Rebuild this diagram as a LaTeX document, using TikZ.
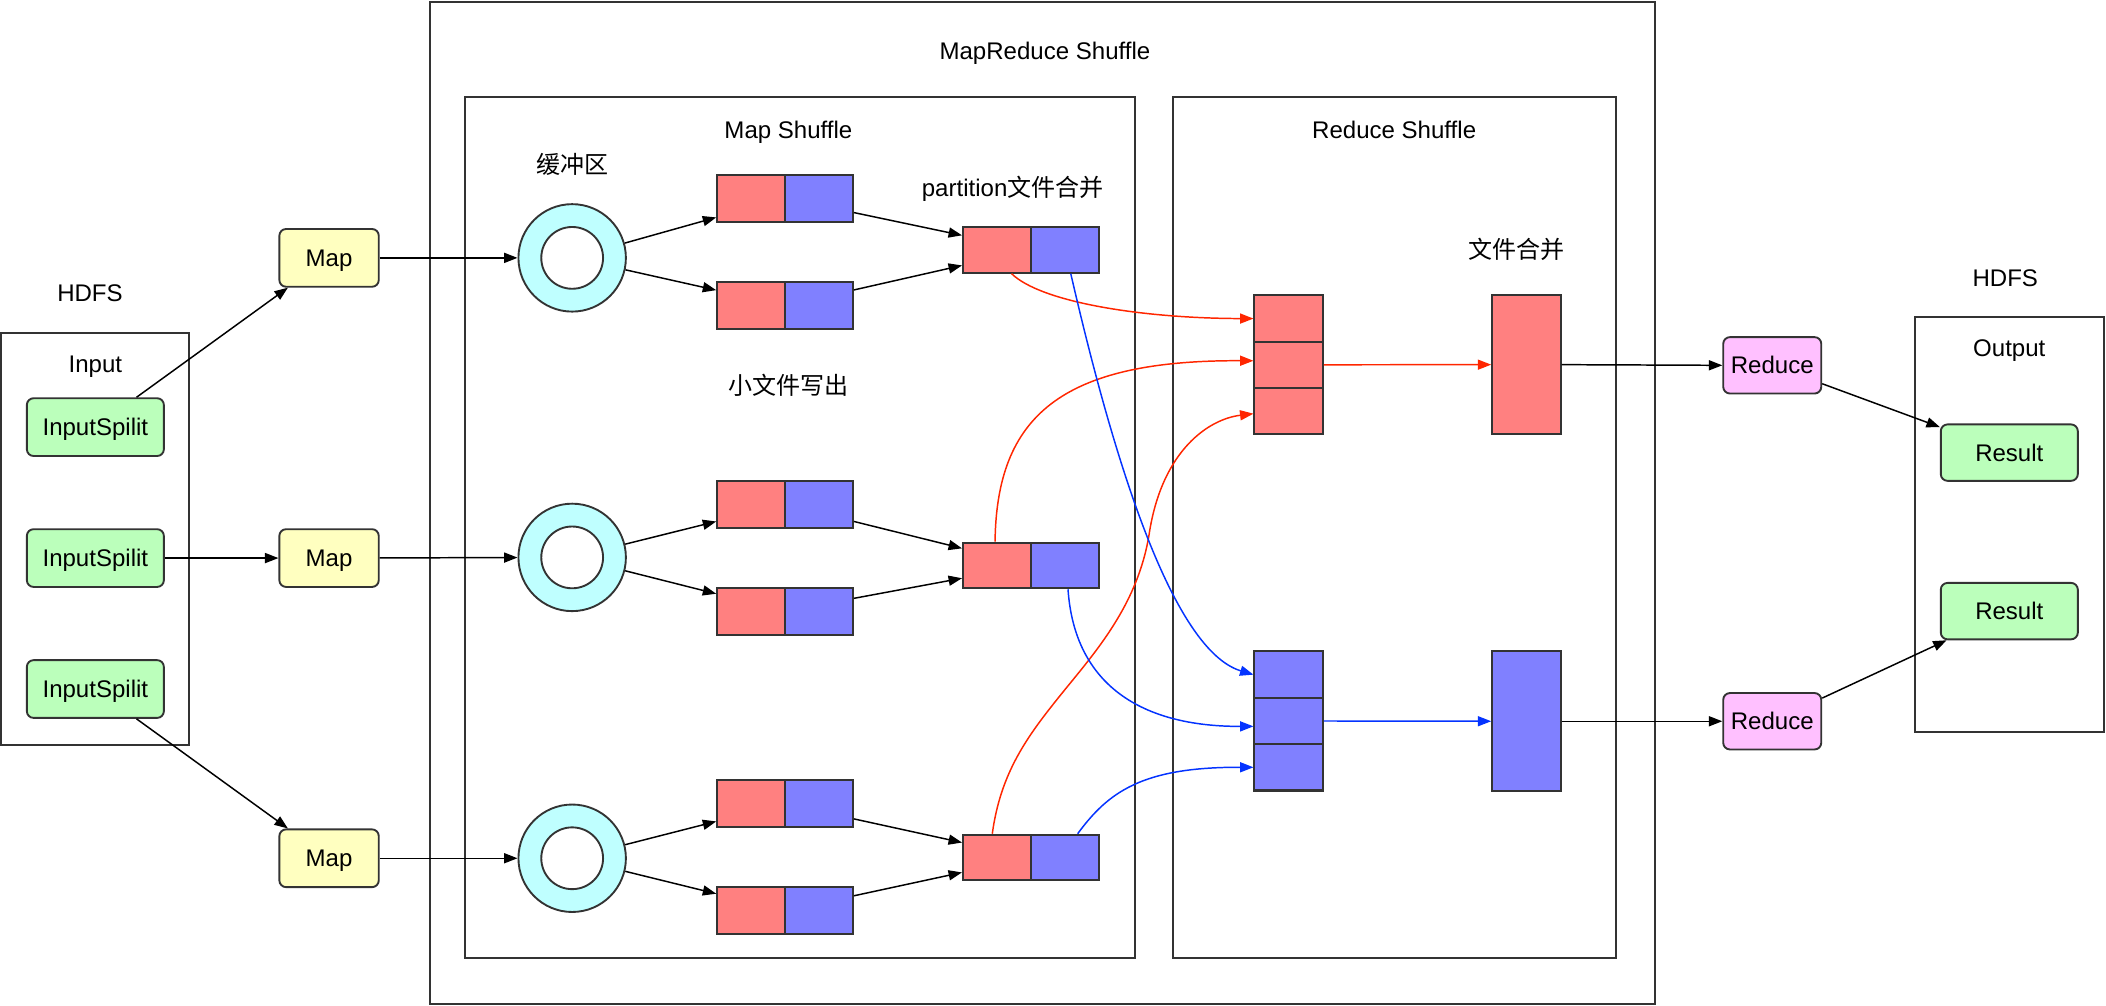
\documentclass[tikz,border=0pt]{standalone}
\usepackage{fontspec}
\setmainfont{Liberation Sans}
\newfontfamily\cjk{Noto Sans CJK SC}
\usetikzlibrary{arrows.meta,calc}
\definecolor{bd}{HTML}{333333}
\definecolor{redf}{HTML}{FF8080}
\definecolor{bluef}{HTML}{8080FF}
\definecolor{cyanf}{HTML}{BFFFFF}
\definecolor{greenf}{HTML}{BBFFBB}
\definecolor{yellowf}{HTML}{FFFFC0}
\definecolor{pinkf}{HTML}{FFC0FF}
\definecolor{redl}{HTML}{FF2600}
\definecolor{bluel}{HTML}{0433FF}
\begin{document}
\begin{tikzpicture}[x=1pt,y=-1pt,
  every node/.style={font=\fontsize{17.9pt}{21pt}\selectfont},
  lbl/.style={inner sep=0pt, text height=12.8pt, text depth=0pt},
  frame/.style={draw=bd, line width=1.5pt, inner sep=0pt},
  rbox/.style={draw=bd, line width=1.4pt, rounded corners=5pt, inner sep=0pt, text height=12.8pt, text depth=0pt},
  split/.style={rbox, fill=greenf, minimum width=102pt, minimum height=43pt},
  mapn/.style={rbox, fill=yellowf, minimum width=74pt, minimum height=43pt},
  rednode/.style={rbox, fill=pinkf, minimum width=73pt, minimum height=42pt},
  resn/.style={rbox, fill=greenf, minimum width=102pt, minimum height=42pt},
  ring/.style={circle, draw=bd, line width=1.4pt, fill=cyanf, minimum size=80pt, inner sep=0pt},
  hole/.style={circle, draw=bd, line width=1.4pt, fill=white, minimum size=46pt, inner sep=0pt},
  pair/.style={frame, minimum width=101pt, minimum height=35pt,
    path picture={
      \fill[redf] (path picture bounding box.south west) rectangle (path picture bounding box.north);
      \fill[bluef] (path picture bounding box.south) rectangle (path picture bounding box.north east);
      \draw[bd, line width=1.5pt] (path picture bounding box.south) -- (path picture bounding box.north);}},
  rcell/.style={frame, fill=redf, minimum width=51pt, minimum height=34.5pt},
  bcell/.style={frame, fill=bluef, minimum width=51pt, minimum height=34.5pt},
  arr/.style={draw=black, line width=1.1pt, -{Triangle[length=10pt,width=7.5pt]}},
  rarr/.style={arr, draw=redl},
  barr/.style={arr, draw=bluel},
]
\useasboundingbox (0,0) rectangle (1568,749);

% frames
\node[frame, minimum width=912pt, minimum height=746pt] (mr) at (776.5,374.5) {};
\node[frame, minimum width=499pt, minimum height=641pt] (ms) at (595.5,392.5) {};
\node[frame, minimum width=330pt, minimum height=641pt] (rs) at (1038,392.5) {};
\node[frame, minimum width=140pt, minimum height=307pt] (inbox) at (71,401.5) {};
\node[frame, minimum width=141pt, minimum height=309pt] (outbox) at (1496,390.5) {};

% labels
\node[lbl] (t1) at (778,38) {MapReduce Shuffle};
\node[lbl] (t2) at (587,97) {Map Shuffle};
\node[lbl] (t3) at (1038,97) {Reduce Shuffle};
\node[lbl] (t4) at (67,218) {HDFS};
\node[lbl] (t5) at (71,271) {Input};
\node[lbl] (t6) at (1493,207) {HDFS};
\node[lbl] (t7) at (1496,259) {Output};
\node[lbl] (t8) at (426,123) {\cjk 缓冲区};
\node[lbl] (t9) at (754,140) {partition{\cjk 文件合并}};
\node[lbl] (t10) at (587,287) {\cjk 小文件写出};
\node[lbl] (t11) at (1129,186) {\cjk 文件合并};

% input splits
\node[split] (sp1) at (71,318) {InputSpilit};
\node[split] (sp2) at (71,415.5) {InputSpilit};
\node[split] (sp3) at (71,513) {InputSpilit};

% maps
\node[mapn] (mp1) at (245,192) {Map};
\node[mapn] (mp2) at (245,415.5) {Map};
\node[mapn] (mp3) at (245,639) {Map};

% rings
\node[ring] (r1) at (426,192) {};
\node[hole] (h1) at (426,192) {};
\node[ring] (r2) at (426,415) {};
\node[hole] (h2) at (426,415) {};
\node[ring] (r3) at (426,639) {};
\node[hole] (h3) at (426,639) {};

% small files
\node[pair] (s11) at (584.5,147.5) {};
\node[pair] (s12) at (584.5,227.5) {};
\node[pair] (s21) at (584.5,375.5) {};
\node[pair] (s22) at (584.5,455) {};
\node[pair] (s31) at (584.5,598.5) {};
\node[pair] (s32) at (584.5,678) {};

% partition merged
\node[pair, minimum height=34pt] (p1) at (767.5,186) {};
\node[pair, minimum height=34pt] (p2) at (767.5,421) {};
\node[pair, minimum height=34pt] (p3) at (767.5,638.5) {};

% reduce side cells
\node[rcell] (rc1) at (959.5,237.2) {};
\node[rcell] (rc2) at (959.5,271.6) {};
\node[rcell] (rc3) at (959.5,306) {};
\node[bcell] (bc1) at (959.5,502.3) {};
\node[bcell] (bc2) at (959.5,536.8) {};
\node[bcell] (bc3) at (959.5,571.3) {};
\node[frame, fill=redf, minimum width=51pt, minimum height=103pt] (rm) at (1136.5,271.5) {};
\node[frame, fill=bluef, minimum width=51pt, minimum height=104pt] (bm) at (1136.5,537) {};

% reduce and results
\node[rednode] (rd1) at (1319.5,272) {Reduce};
\node[rednode] (rd2) at (1319.5,537) {Reduce};
\node[resn] (res1) at (1496,337) {Result};
\node[resn] (res2) at (1496,455) {Result};

% black arrows
\draw[arr] (sp1) -- (mp1);
\draw[arr] (sp2) -- (mp2);
\draw[arr] (sp3) -- (mp3);
\draw[arr] (mp1) -- (r1);
\draw[arr] (mp2) -- (r2);
\draw[arr] (mp3) -- (r3);
\draw[arr] (r1) -- (s11);
\draw[arr] (r1) -- (s12);
\draw[arr] (r2) -- (s21);
\draw[arr] (r2) -- (s22);
\draw[arr] (r3) -- (s31);
\draw[arr] (r3) -- (s32);
\draw[arr] (s11) -- (p1);
\draw[arr] (s12) -- (p1);
\draw[arr] (s21) -- (p2);
\draw[arr] (s22) -- (p2);
\draw[arr] (s31) -- (p3);
\draw[arr] (s32) -- (p3);
\draw[arr] (rm.east) -- (rd1.west);
\draw[arr] (bm.east) -- (rd2.west);
\draw[arr] (rd1) -- (res1);
\draw[arr] (rd2) -- (res2);

% partition points
\coordinate (p1r) at ($(p1.south west)!0.36!(p1.south east)$);
\coordinate (p1b) at ($(p1.south west)!0.79!(p1.south east)$);
\coordinate (p2r) at ($(p2.north west)!0.24!(p2.north east)$);
\coordinate (p2b) at ($(p2.south west)!0.77!(p2.south east)$);
\coordinate (p3r) at ($(p3.north west)!0.22!(p3.north east)$);
\coordinate (p3b) at ($(p3.north west)!0.84!(p3.north east)$);

% red curves
\draw[rarr] (p1r) .. controls (775,225) and (850,237) .. (rc1.west);
\draw[rarr] (p2r) .. controls (742,310) and (790,268) .. ([yshift=3pt]rc2.west);
\draw[rarr] (p3r) .. controls (745,575) and (765,548) .. (790,517)
   .. controls (815,486) and (848,450) .. (856,395)
   .. controls (866,335) and (900,312) .. ([yshift=-2pt]rc3.west);
\draw[rarr] (rc2.east) -- (rm.west);

% blue curves
\draw[barr] (p1b) .. controls (824,320) and (869,483) .. (bc1.west);
\draw[barr] (p2b) .. controls (800,510) and (850,541) .. ([yshift=-4pt]bc2.west);
\draw[barr] (p3b) .. controls (825,590) and (850,571) .. (bc3.west);
\draw[barr] (bc2.east) -- (bm.west);
\end{tikzpicture}
\end{document}
